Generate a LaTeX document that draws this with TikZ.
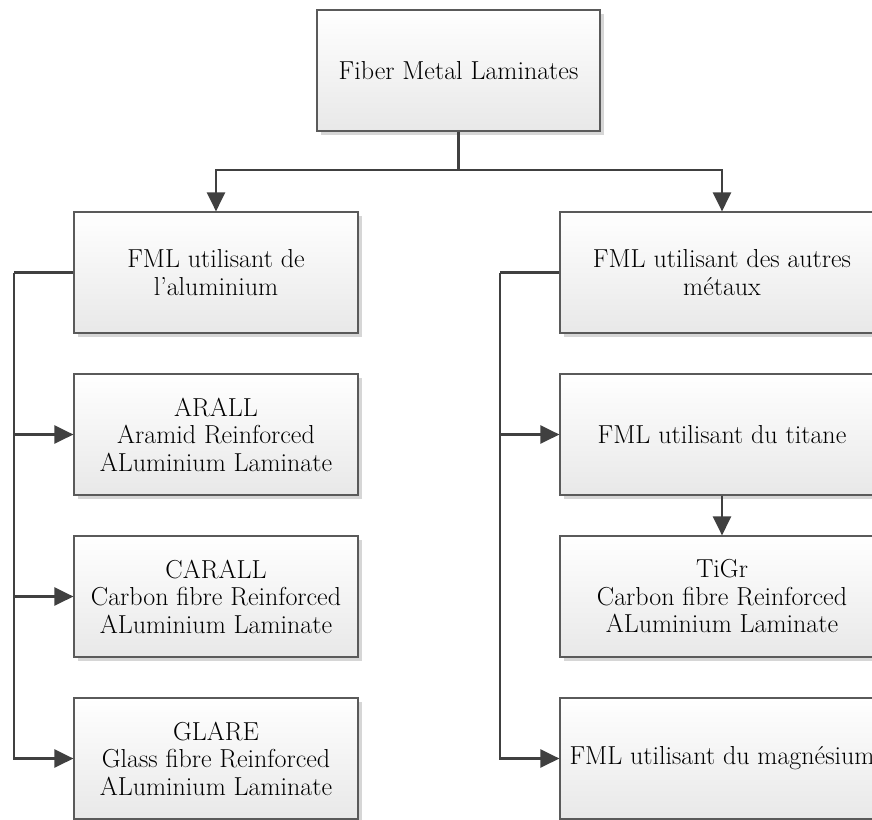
\documentclass[tikz,border=0pt]{standalone}
\usetikzlibrary{arrows.meta,shadows}
\definecolor{linec}{HTML}{404040}
\definecolor{boxedge}{HTML}{5A5A5A}
\begin{document}
\begin{tikzpicture}[x=1pt,y=-1pt,
  box/.style={draw=boxedge,line width=1.2pt,top color=white,bottom color=black!9,
    minimum width=284pt,minimum height=121pt,inner sep=0pt,align=center,
    font=\fontsize{26}{27.5}\selectfont,
    drop shadow={shadow xshift=4pt,shadow yshift=-4pt,fill=black!16,opacity=1}},
  rbox/.style={box,minimum width=324pt},
  conn/.style={draw=linec,line width=2.6pt},
  arr/.style={conn,-{Triangle[length=19pt,width=18pt]}}]
\useasboundingbox (0,0) rectangle (872,819);
\clip (0,0) rectangle (872,819);
\node[box,minimum width=283pt] (top) at (458.5,70.5) {Fiber Metal Laminates};
\node[box] (al) at (216,272.5) {FML utilisant de\\l’aluminium};
\node[rbox] (ot) at (722,272.5) {FML utilisant des autres\\métaux};
\node[box] (arall) at (216,434.5) {ARALL\\Aramid Reinforced\\ALuminium Laminate};
\node[box] (carall) at (216,596.5) {CARALL\\Carbon fibre Reinforced\\ALuminium Laminate};
\node[box] (glare) at (216,758.5) {GLARE\\Glass fibre Reinforced\\ALuminium Laminate};
\node[rbox] (ti) at (722,434.5) {FML utilisant du titane};
\node[rbox] (tigr) at (722,596.5) {TiGr\\Carbon fibre Reinforced\\ALuminium Laminate};
\node[rbox] (mg) at (722,758.5) {FML utilisant du magnésium};
\coordinate (j) at (458.5,170);
\coordinate (lt) at (14,272.5);
\coordinate (rt) at (500,272.5);
\draw[conn] (top.south) -- (j);
\draw[arr] (j) -| (al.north);
\draw[arr] (j) -| (ot.north);
\draw[conn] (al.west) -- (lt);
\draw[arr] (lt) |- (glare.west);
\draw[arr] (lt |- arall.west) -- (arall.west);
\draw[arr] (lt |- carall.west) -- (carall.west);
\draw[conn] (ot.west) -- (rt);
\draw[arr] (rt) |- (mg.west);
\draw[arr] (rt |- ti.west) -- (ti.west);
\draw[arr] (ti.south) -- (tigr.north);
\end{tikzpicture}
\end{document}
